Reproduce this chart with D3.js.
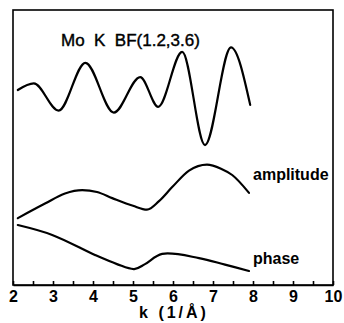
<!DOCTYPE html>
<html>
<head>
<meta charset="utf-8">
<script src="https://cdn.jsdelivr.net/npm/d3@7"></script>
<style>
  body { margin: 0; background: #fff; }
  svg { display: block; font-family: "Liberation Sans", Arial, sans-serif; }
  .curve { fill: none; stroke: #000; stroke-width: 2.2; stroke-linecap: round; }
  .axis path, .axis line { stroke: #000; stroke-width: 1.6; }
  .axis text { font-size: 16px; font-weight: bold; fill: #000; }
</style>
</head>
<body>
<svg width="344" height="323"></svg>
<script>
// values; y is in arbitrary units (0 = bottom of frame, 100 = top)
let bfK = [2.12, 2.52, 3.14, 3.81, 4.52, 5.18, 5.63, 6.23, 6.80, 7.45, 7.93];
let bfY = [70.9, 73.3, 63.4, 80.8, 62.7, 75.6, 64.8, 84.8, 50.9, 86.4, 65.5];

let ampK = [2.12, 2.8, 3.3, 3.73, 4.1, 4.48, 5.0, 5.35, 5.65, 5.98, 6.4, 6.85, 7.2, 7.48, 7.9];
let ampY = [24.3, 29.6, 33.3, 34.5, 33.8, 31.6, 28.8, 27.4, 30.5, 35.6, 41.6, 43.8, 42.3, 40.0, 33.5];

let phaseK = [2.12, 2.98, 4.05, 4.6, 5.03, 5.3, 5.73, 6.65, 7.3, 7.9];
let phaseY = [21.8, 18.2, 10.9, 7.6, 5.8, 7.6, 11.3, 9.8, 7.4, 5.1];

let kTicks = d3.range(2, 10.01, 0.5);

let svg = d3.select("svg"),
    margin = { top: 10, right: 11, bottom: 38, left: 13 },
    width = +svg.attr("width") - margin.left - margin.right,
    height = +svg.attr("height") - margin.top - margin.bottom;

let g = svg.append("g")
    .attr("transform", "translate(" + [margin.left, margin.top] + ")");

let x = d3.scaleLinear().domain([2, 10]).range([0, width]);
let y = d3.scaleLinear().domain([0, 100]).range([height, 0]);

let wave = d3.line()
    .x(d => x(d[0]))
    .y(d => y(d[1]))
    .curve(d3.curveMonotoneX);

let smooth = d3.line()
    .x(d => x(d[0]))
    .y(d => y(d[1]))
    .curve(d3.curveCatmullRom.alpha(0.5));

// frame
g.append("rect")
    .attr("width", width)
    .attr("height", height)
    .attr("fill", "none")
    .attr("stroke", "#000")
    .attr("stroke-width", 1.6);

g.append("g")
    .attr("class", "axis")
    .attr("transform", "translate(0," + height + ")")
    .call(d3.axisBottom(x)
        .tickValues(kTicks)
        .tickSize(-4)
        .tickSizeOuter(0)
        .tickPadding(6)
        .tickFormat(d => Number.isInteger(d) ? d : ""));

let zip = (ks, ys) => ks.map((k, i) => [k, ys[i]]);

g.append("path").attr("class", "curve").attr("d", wave(zip(bfK, bfY)));
g.append("path").attr("class", "curve").attr("d", wave(zip(ampK, ampY)));
g.append("path").attr("class", "curve").attr("d", smooth(zip(phaseK, phaseY)));

g.append("text")
    .attr("x", 48)
    .attr("y", 36)
    .attr("font-size", 17)
    .attr("stroke", "#000")
    .attr("stroke-width", 0.4)
    .style("white-space", "pre")
    .text("Mo  K  BF(1.2,3.6)");

g.append("text")
    .attr("x", 240)
    .attr("y", 170)
    .attr("font-size", 16)
    .attr("font-weight", "bold")
    .text("amplitude");

g.append("text")
    .attr("x", 240)
    .attr("y", 254)
    .attr("font-size", 16)
    .attr("font-weight", "bold")
    .text("phase");

svg.append("text")
    .attr("x", 174)
    .attr("y", 318)
    .attr("text-anchor", "middle")
    .attr("font-size", 16)
    .attr("font-weight", "bold")
    .attr("letter-spacing", 3)
    .style("white-space", "pre")
    .text("k (1/Å)");
</script>
</body>
</html>
